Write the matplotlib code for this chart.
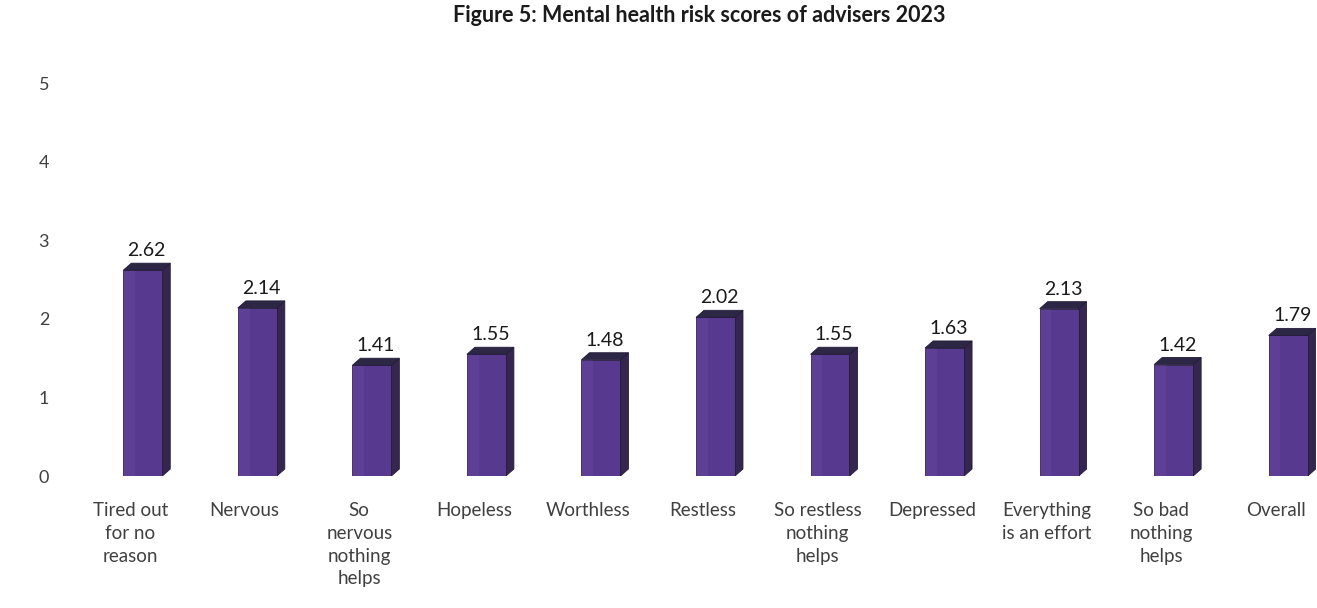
import numpy as np
import matplotlib
matplotlib.use('Agg')
import matplotlib.pyplot as plt
from matplotlib.patches import Polygon

plt.rcParams['font.family'] = ['Lato', 'DejaVu Sans']

# Chart data
categories = ['Tired out\nfor no\nreason', 'Nervous', 'So\nnervous\nnothing\nhelps', 'Hopeless',
              'Worthless', 'Restless', 'So restless\nnothing\nhelps', 'Depressed',
              'Everything\nis an effort', 'So bad\nnothing\nhelps', 'Overall']
scores = [2.62, 2.14, 1.41, 1.55, 1.48, 2.02, 1.55, 1.63, 2.13, 1.42, 1.79]
y_ticks = [0, 1, 2, 3, 4, 5]

# Pseudo-3D column style
front_color = '#573a8f'
side_color = '#35264f'
top_color = '#2b2744'
edge_color = '#241a3a'
bar_width = 0.34
shift = 0.11      # columns sit a little right of the category
depth_x = 0.07    # depth offset in x units
depth_y = 0.09    # depth offset in y units

fig = plt.figure(figsize=(13.17, 6.08), dpi=100)
ax = fig.add_axes([0.051, 0.217, 0.948, 0.646])

x = np.arange(len(scores))
xc = x + shift
ax.bar(xc, scores, width=bar_width, color=front_color, edgecolor=edge_color,
       linewidth=0.6, zorder=3)

for xi, v in zip(xc, scores):
    left = xi - bar_width / 2
    right = xi + bar_width / 2
    side = Polygon([(right, 0), (right + depth_x, depth_y), (right + depth_x, v + depth_y), (right, v)],
                   closed=True, facecolor=side_color, edgecolor=edge_color, linewidth=0.6, zorder=2)
    top = Polygon([(left, v), (left + depth_x, v + depth_y), (right + depth_x, v + depth_y), (right, v)],
                  closed=True, facecolor=top_color, edgecolor=edge_color, linewidth=0.6, zorder=4)
    ax.add_patch(side)
    ax.add_patch(top)
    # lighter strip on the left of the front face
    ax.bar(left + bar_width * 0.15, v, width=bar_width * 0.3, color='#6a4aa3', alpha=0.35,
           linewidth=0, zorder=3.5)
    ax.text(xi + depth_x / 2, v + depth_y + 0.05, f'{v:.2f}', ha='center', va='bottom',
            fontsize=14, color='#1a1a1a', zorder=5)

ax.set_xlim(-0.55, 10.35)
ax.set_ylim(0, 5)
ax.set_yticks(y_ticks)
ax.set_yticklabels([str(t) for t in y_ticks], fontsize=13, color='#404040')
ax.set_xticks(x)
ax.set_xticklabels(categories, fontsize=13.5, color='#404040', linespacing=1.4, va='top')
ax.tick_params(axis='both', length=0)
ax.tick_params(axis='y', pad=13)
ax.tick_params(axis='x', pad=19)
for s in ax.spines.values():
    s.set_visible(False)

fig.text(0.531, 0.975, 'Figure 5: Mental health risk scores of advisers 2023', ha='center', va='center',
         fontsize=15.5, fontweight='bold', color='#1a1a1a')

fig.savefig('out.png', dpi=100)
